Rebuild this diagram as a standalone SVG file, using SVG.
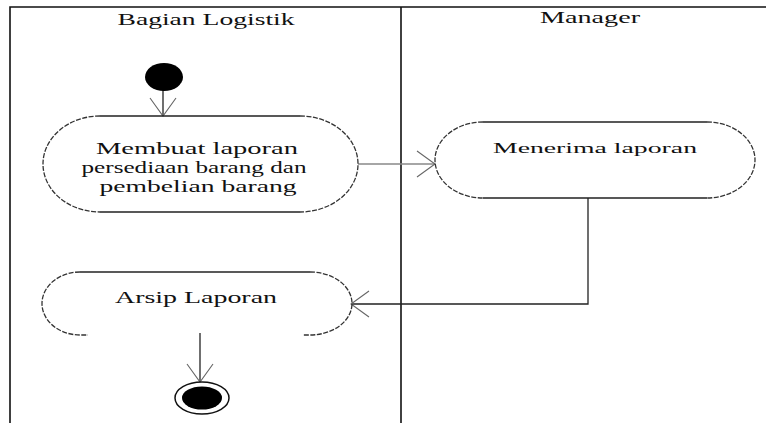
<svg xmlns="http://www.w3.org/2000/svg" width="766" height="423" viewBox="0 0 766 423">
<defs>
<style>
.lane{stroke:#111;stroke-width:1.6;fill:none}
.edge{stroke:#222;stroke-width:1.3;fill:none}
.arc{stroke:#333;stroke-width:1.3;fill:none;stroke-dasharray:5 1.5}
.flat{stroke:#222;stroke-width:1.4;fill:none}
.t{font-family:"Liberation Serif","Times New Roman",serif;fill:#111}
.ah{stroke:#666;stroke-width:1.1;fill:none}
</style>
<marker id="arr" markerUnits="userSpaceOnUse" markerWidth="40" markerHeight="40" refX="20" refY="20" orient="auto" viewBox="0 0 40 40">
<path class="ah" d="M2,7 L20,20 L2,33"/>
</marker>
</defs>
<rect width="766" height="423" fill="#fff"/>
<g id="swimlanes">
<path class="lane" d="M10,423 V7 H766"/>
<path class="lane" d="M401,7 V423"/>
<text class="t" x="206" y="25" font-size="16" text-anchor="middle" textLength="177" lengthAdjust="spacingAndGlyphs">Bagian Logistik</text>
<text class="t" x="590" y="23" font-size="16" text-anchor="middle" textLength="100" lengthAdjust="spacingAndGlyphs">Manager</text>
</g>
<g id="connectors">
<path class="edge" d="M163,90 V116" marker-end="url(#arr)"/>
<path class="edge" d="M358,164 H435" style="stroke:#888" marker-end="url(#arr)"/>
<path class="edge" d="M588,198 V304 H351" marker-end="url(#arr)"/>
<path class="edge" d="M200,333 V382" marker-end="url(#arr)"/>
</g>
<g id="start">
<ellipse cx="164" cy="77" rx="19" ry="14" fill="#000"/>
</g>
<g id="membuat-laporan">
<path class="flat" d="M100,116 H300 M100,212 H300"/>
<path class="arc" d="M100,116 A57,48 0 0 0 100,212 M300,116 A58,48 0 0 1 300,212"/>
<text class="t" font-size="16" text-anchor="middle">
<tspan x="199" y="154" textLength="202" lengthAdjust="spacingAndGlyphs">Membuat laporan</tspan>
<tspan x="196" y="173" textLength="225" lengthAdjust="spacingAndGlyphs">persediaan barang dan</tspan>
<tspan x="198" y="192" textLength="197" lengthAdjust="spacingAndGlyphs">pembelian barang</tspan>
</text>
</g>
<g id="menerima-laporan">
<path class="flat" d="M483,122 H707 M483,198 H707"/>
<path class="arc" d="M483,122 A48,38 0 0 0 483,198 M707,122 A48,38 0 0 1 707,198"/>
<text class="t" x="595" y="153" font-size="14" text-anchor="middle" textLength="204" lengthAdjust="spacingAndGlyphs">Menerima laporan</text>
</g>
<g id="arsip-laporan">
<path class="flat" d="M80,272 H310"/>
<path class="arc" d="M80,272 A38,31.5 0 0 0 80,335 H88 M310,272 A42,31.5 0 0 1 310,335 H303"/>
<text class="t" x="196" y="303" font-size="17" text-anchor="middle" textLength="162" lengthAdjust="spacingAndGlyphs">Arsip Laporan</text>
</g>
<g id="end">
<ellipse cx="202" cy="398" rx="27" ry="16" fill="#fff" stroke="#111" stroke-width="1.5"/>
<ellipse cx="202" cy="398" rx="20" ry="11.5" fill="#000"/>
</g>
</svg>
